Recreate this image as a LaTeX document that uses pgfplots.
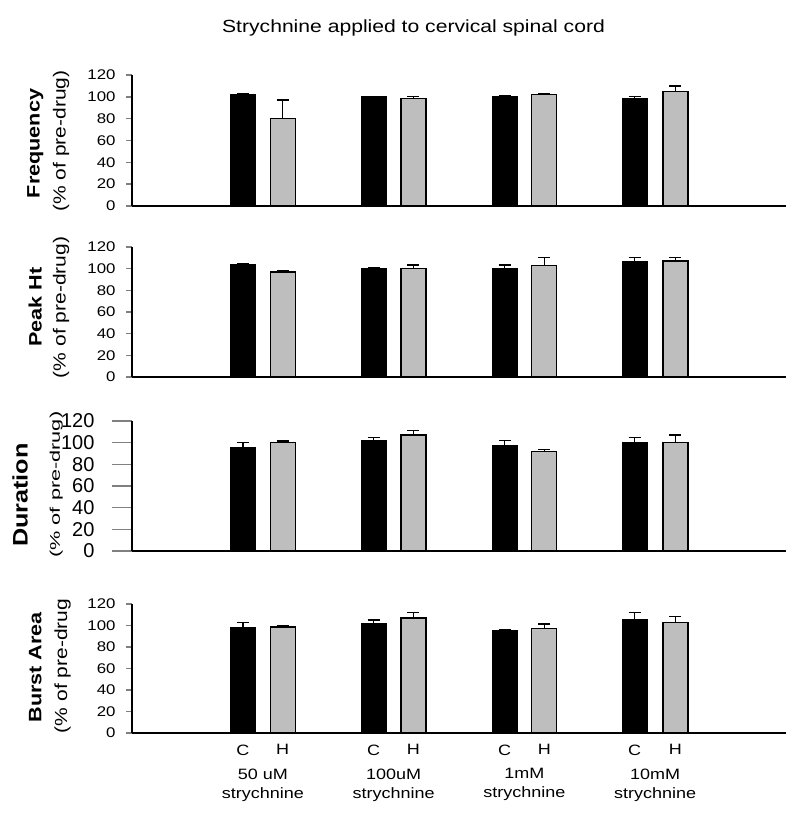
\documentclass[border=0pt]{standalone}
\usepackage{fontspec}
\setmainfont[FakeStretch=1.2]{Liberation Sans}
\newfontfamily\plainsans{Liberation Sans}
\newfontfamily\widesans[FakeStretch=1.55]{Liberation Sans}
\usepackage{pgfplots}
\pgfplotsset{compat=1.18}
\definecolor{barH}{RGB}{190,190,190}

\pgfplotsset{
  panel/.style={
    scale only axis, width=654pt, height=#1, anchor=south west,
    xmin=-1, xmax=4, ymin=0, ymax=120,
    axis lines*=left, clip=false,
    axis line style={line width=1.4pt},
    ytick={0,20,...,120},
    tick align=outside, major tick length=6pt,
    ytick style={line width=1.4pt},
    xtick=\empty,
    /pgf/number format/assume math mode=true,
    yticklabel style={font=\fontsize{14}{14}\selectfont, xshift=-7pt},
    ybar, bar width=25pt,
    error bars/y dir=plus, error bars/y explicit,
    error bars/error bar style={line width=1.3pt, black},
    error bars/error mark options={rotate=90, mark size=6pt, line width=1.3pt, black},
  },
  cbar/.style={fill=black, draw=black, line width=1.0pt, bar shift=0pt},
  hbar/.style={fill=barH, draw=black, line width=1.3pt, bar shift=0pt},
}
\tikzset{
  blab/.style={rotate=90, font=\bfseries\fontsize{18}{18}\selectfont},
  slab/.style={rotate=90, font=\fontsize{17.5}{18}\selectfont},
}

\begin{document}
\begin{tikzpicture}
\useasboundingbox (0,0) rectangle (800pt,818pt);
\node[font=\fontsize{17.6}{18}\selectfont, anchor=base] at (413.5pt,785pt) {Strychnine applied to cervical spinal cord};

% Frequency
\begin{axis}[panel=131pt, at={(132pt,612pt)}]
\addplot[cbar] coordinates {(-0.152,102) +- (0,1) (0.848,100) +- (0,0.5) (1.848,100) +- (0,1.5) (2.843,98.5) +- (0,1.5)};
\addplot[hbar] coordinates {(0.152,80) +- (0,17) (1.152,98.5) +- (0,2) (2.152,102) +- (0,1) (3.154,105) +- (0,5)};
\node[blab] at (axis description cs:-0.148,0.477) {Frequency};
\node[slab] at (axis description cs:-0.1086,0.496) {(\% of pre-drug)};
\end{axis}

% Peak Ht
\begin{axis}[panel=130pt, at={(132pt,441pt)}]
\addplot[cbar] coordinates {(-0.152,103.5) +- (0,1) (0.848,100) +- (0,1) (1.848,100) +- (0,3.5) (2.843,107) +- (0,3)};
\addplot[hbar] coordinates {(0.152,97) +- (0,1.5) (1.152,100) +- (0,3.5) (2.152,103) +- (0,7) (3.154,107) +- (0,3)};
\node[blab] at (axis description cs:-0.148,0.538) {Peak Ht};
\node[slab] at (axis description cs:-0.1086,0.535) {(\% of pre-drug)};
\end{axis}

% Duration
\begin{axis}[panel=130pt, at={(132pt,267pt)},
  major tick length=20pt,
  yticklabel style={font=\plainsans\fontsize{20}{20}\selectfont, xshift=-7pt}]
\addplot[cbar] coordinates {(-0.152,95.5) +- (0,4.5) (0.848,102) +- (0,3) (1.848,97) +- (0,5) (2.843,100.5) +- (0,4.5)};
\addplot[hbar] coordinates {(0.152,100) +- (0,1.5) (1.152,107) +- (0,4.5) (2.152,92) +- (0,1.5) (3.154,100) +- (0,7)};
\draw[line width=1.4pt] (axis description cs:0,0) -- ++(-20pt,0);
\node[rotate=90, font=\bfseries\fontsize{21}{21}\selectfont] at (axis description cs:-0.171,0.43) {Duration};
\node[rotate=90, font=\widesans\fontsize{14}{14}\selectfont] at (axis description cs:-0.116,0.51) {(\% of pre-drug)};
\end{axis}

% Burst Area
\begin{axis}[panel=129pt, at={(132pt,85pt)},
  xtick={-0.152,0.152,0.848,1.152,1.848,2.152,2.843,3.154},
  xticklabels={C,H,C,H,C,H,C,H},
  xtick style={draw=none},
  xticklabel style={font=\fontsize{15}{15}\selectfont, yshift=-2pt},
  extra x ticks={0,1,2,3},
  extra x tick labels={{50 uM\\strychnine},{100uM\\strychnine},{1mM\\strychnine},{10mM\\strychnine}},
  extra x tick style={xtick style={draw=none}, xticklabel style={align=center, font=\fontsize{15}{19}\selectfont, yshift=-24pt}}]
\addplot[cbar] coordinates {(-0.152,98.5) +- (0,4.5) (0.848,102) +- (0,3) (1.848,95.5) +- (0,1) (2.843,105.5) +- (0,6.5)};
\addplot[hbar] coordinates {(0.152,98.5) +- (0,1.5) (1.152,107) +- (0,5) (2.152,97) +- (0,4.5) (3.154,103) +- (0,5.5)};
\node[blab] at (axis description cs:-0.148,0.51) {Burst Area};
\node[slab] at (axis description cs:-0.106,0.52) {(\% of pre-drug};
\end{axis}
\end{tikzpicture}
\end{document}
